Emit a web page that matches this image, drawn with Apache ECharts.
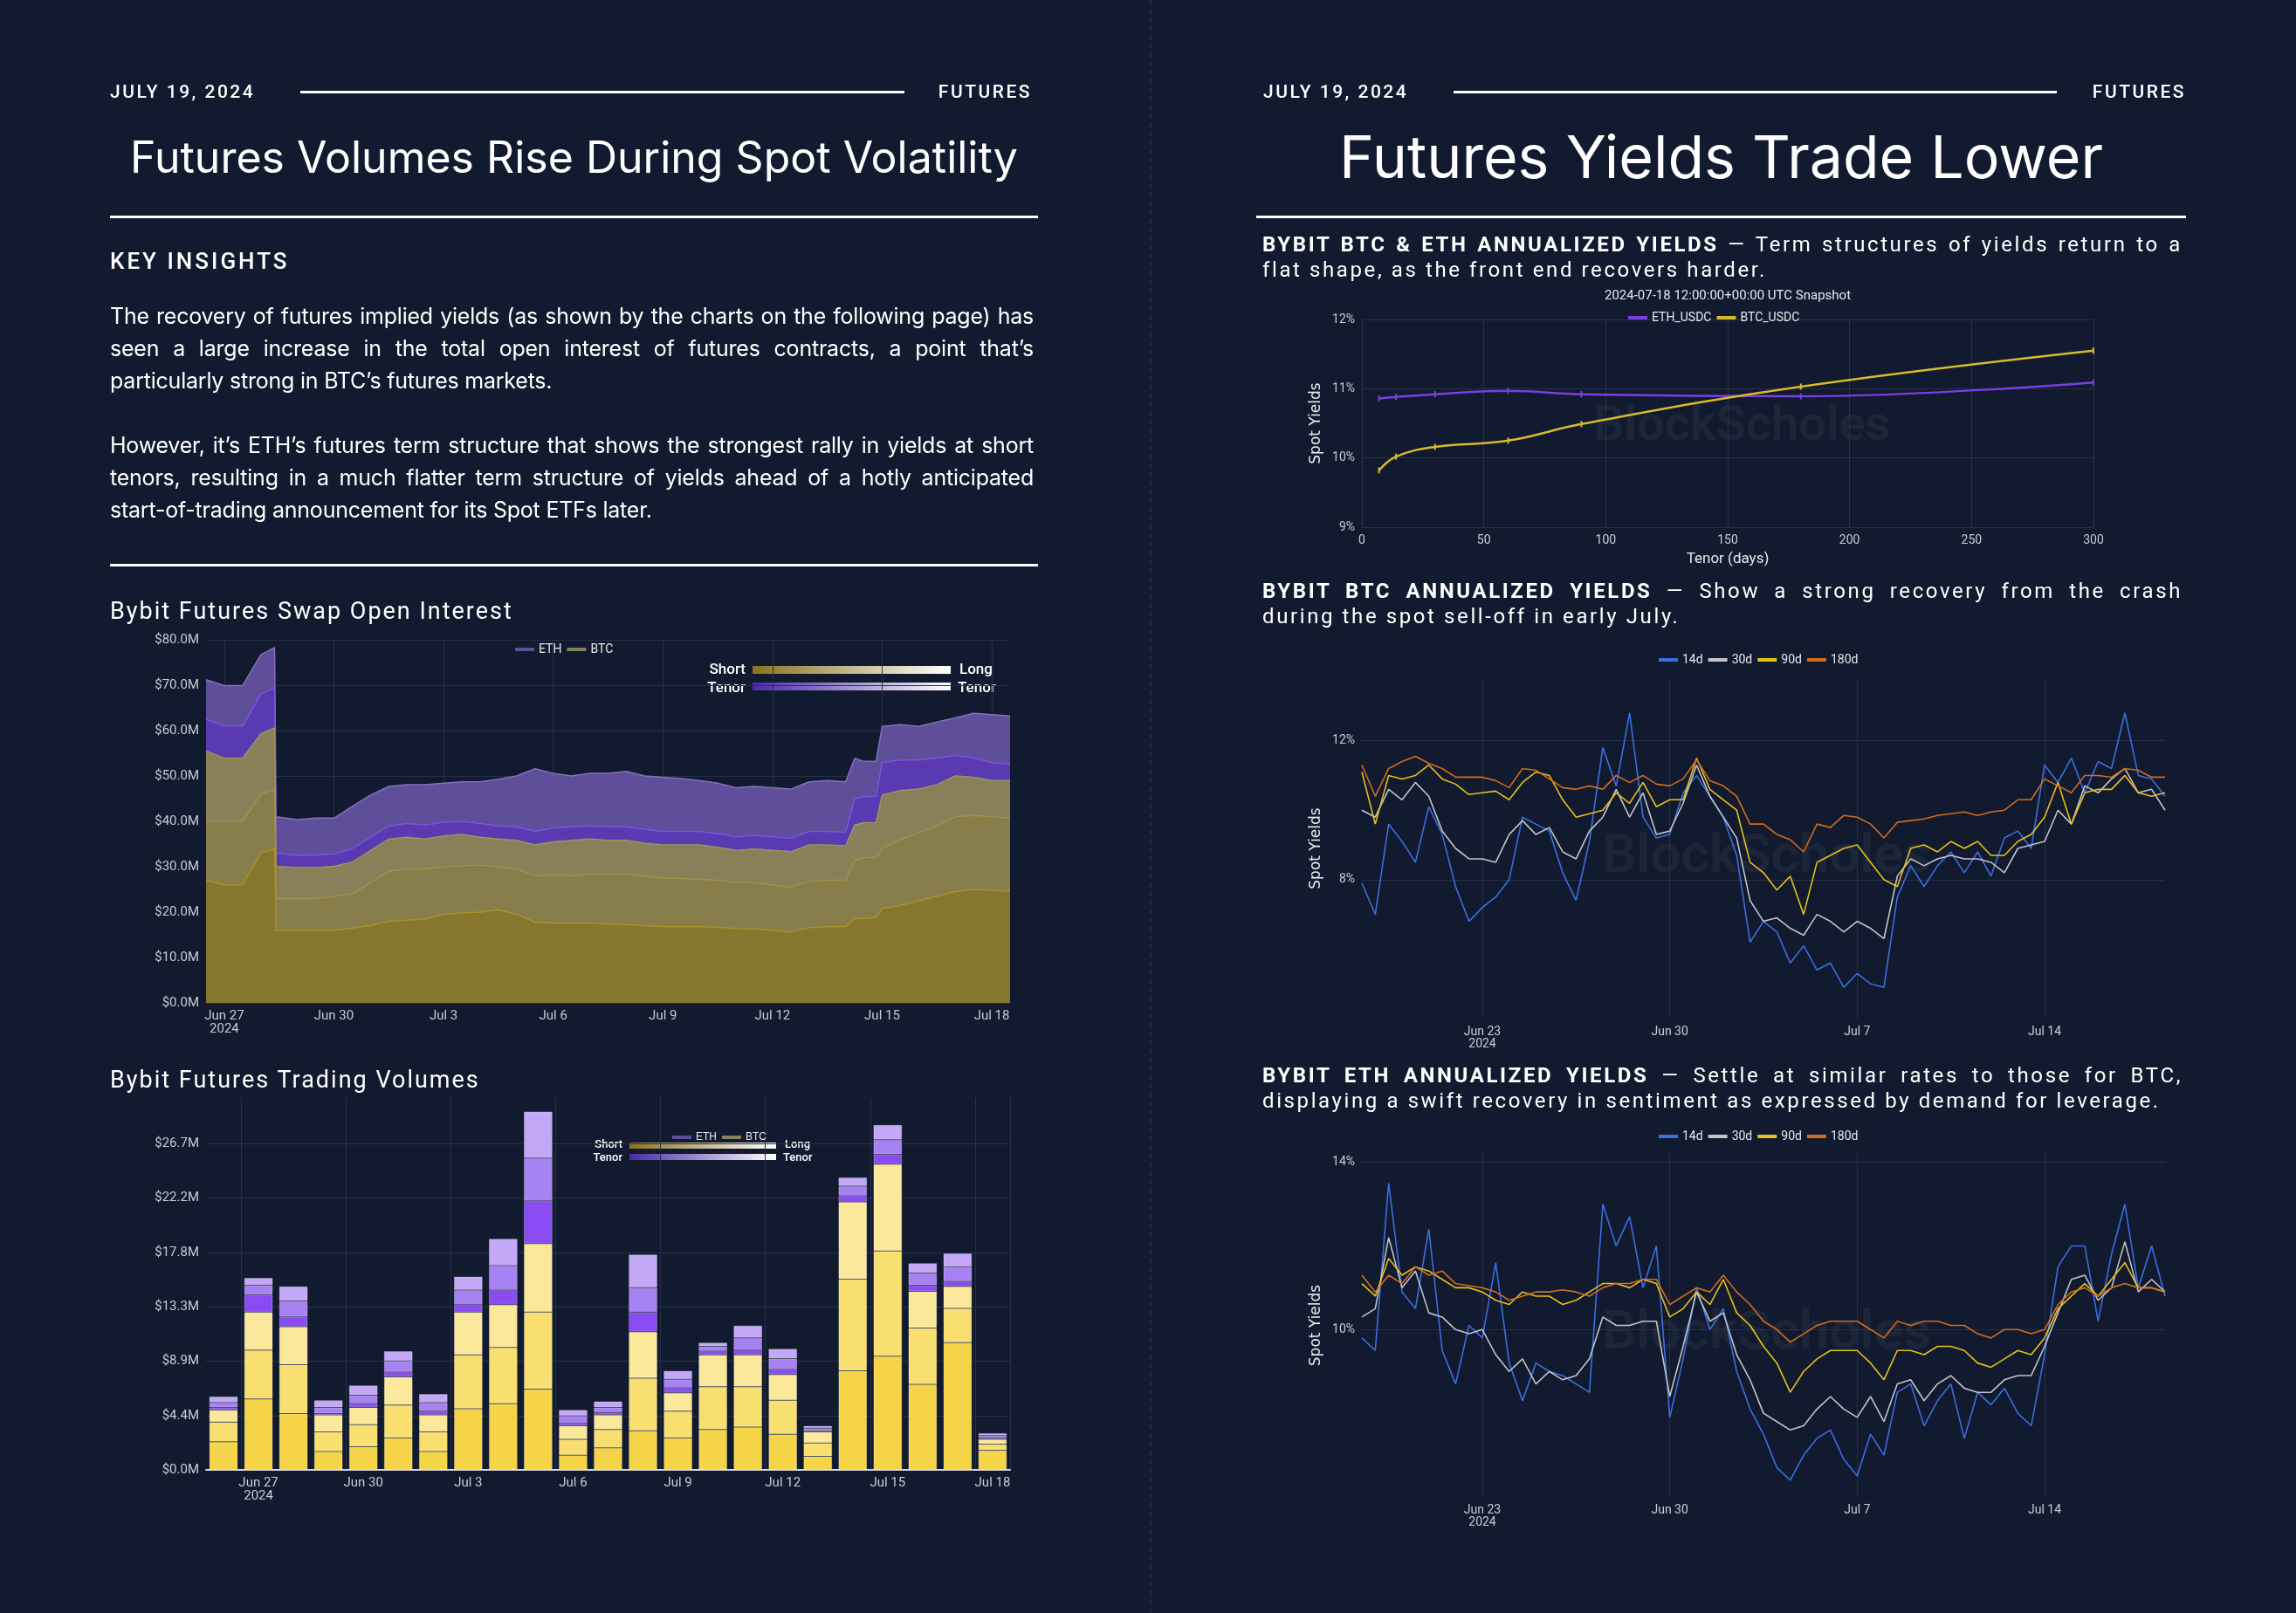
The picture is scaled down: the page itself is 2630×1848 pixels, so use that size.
<!DOCTYPE html>
<html><head><meta charset="utf-8">
<script src="https://cdn.jsdelivr.net/npm/echarts@6/dist/echarts.min.js"></script>
<style>
html,body{margin:0;padding:0;background:#111a2e;}
#page{position:relative;width:2630px;height:1848px;background:#111a2e;overflow:hidden;font-family:Inter,"Noto Sans",sans-serif;color:#fff;}
#chart{position:absolute;left:0;top:0;width:2630px;height:1848px;}
.t{position:absolute;white-space:nowrap;}
.hdr{font-family:Roboto,sans-serif;font-size:21px;letter-spacing:2.5px;font-weight:500;}
.rule{position:absolute;height:3px;background:#fff;}
.sub{font-family:Roboto,sans-serif;font-size:24px;letter-spacing:2.6px;line-height:29px;white-space:normal;text-align:justify;}
.para{position:absolute;left:126px;width:1058px;white-space:normal;text-align:justify;font-size:25px;letter-spacing:-0.22px;line-height:37px;}
.nw{white-space:nowrap;}
</style></head>
<body><div id="page">
<div id="chart"></div>
<div class="t hdr" style="left:126px;top:93px;">JULY 19, 2024</div>
<div class="rule" style="left:344px;top:104px;width:692px;"></div>
<div class="t hdr" style="left:1074px;top:93px;width:108px;text-align:right;">FUTURES</div>
<div class="t" style="left:126px;top:150px;width:1063px;text-align:center;font-size:50px;">Futures Volumes Rise During Spot Volatility</div>
<div class="rule" style="left:126px;top:247px;width:1063px;"></div>
<div class="t hdr" style="left:126px;top:284px;font-size:26px;letter-spacing:3px;">KEY INSIGHTS</div>
<div class="para" style="top:344px;">The recovery of futures implied yields (as shown by the charts on the following page) has seen a large increase in the total open interest of futures contracts, a point that’s particularly strong in BTC’s futures markets.</div>
<div class="para" style="top:492px;">However, it’s ETH’s futures term structure that shows the strongest rally in yields at short tenors, resulting in a much flatter term structure of yields ahead of a hotly anticipated <span class="nw">start-of-trading</span> announcement for its Spot ETFs later.</div>
<div class="rule" style="left:126px;top:646px;width:1063px;"></div>
<div class="t" style="left:126px;top:684px;font-family:Roboto,sans-serif;font-size:27px;letter-spacing:2px;">Bybit Futures Swap Open Interest</div>
<div class="t" style="left:126px;top:1221px;font-family:Roboto,sans-serif;font-size:27px;letter-spacing:2px;">Bybit Futures Trading Volumes</div>

<div style="position:absolute;left:1317px;top:0;height:1848px;border-left:2px dashed #1f2a44;"></div>

<div class="t hdr" style="left:1447px;top:93px;">JULY 19, 2024</div>
<div class="rule" style="left:1665px;top:104px;width:691px;"></div>
<div class="t hdr" style="left:2396px;top:93px;width:108px;text-align:right;">FUTURES</div>
<div class="t" style="left:1439px;top:138px;width:1065px;text-align:center;font-size:68px;">Futures Yields Trade Lower</div>
<div class="rule" style="left:1439px;top:247px;width:1065px;"></div>
<div class="t sub" style="left:1446px;top:266px;width:1054px;"><b>BYBIT BTC &amp; ETH ANNUALIZED YIELDS</b> — Term structures of yields return to a flat shape, as the front end recovers harder.</div>
<div class="t sub" style="left:1446px;top:663px;width:1054px;"><b>BYBIT BTC ANNUALIZED YIELDS</b> — Show a strong recovery from the crash during the spot sell-off in early July.</div>
<div class="t sub" style="left:1446px;top:1218px;width:1054px;"><b>BYBIT ETH ANNUALIZED YIELDS</b> — Settle at similar rates to those for BTC, displaying a swift recovery in sentiment as expressed by demand for leverage.</div>
</div>
<script>
// ---------- Open interest (USD millions), cumulative layer boundaries ----------
const oiTimes = ['2024-06-26 12:00','2024-06-27 00:00','2024-06-27 12:00','2024-06-28 00:00','2024-06-28 09:00','2024-06-28 10:00','2024-06-29 00:00','2024-06-29 12:00','2024-06-30 00:00','2024-06-30 12:00','2024-07-01 00:00','2024-07-01 12:00','2024-07-02 00:00','2024-07-02 12:00','2024-07-03 00:00','2024-07-03 12:00','2024-07-04 00:00','2024-07-04 12:00','2024-07-05 00:00','2024-07-05 12:00','2024-07-06 00:00','2024-07-06 12:00','2024-07-07 00:00','2024-07-07 12:00','2024-07-08 00:00','2024-07-08 12:00','2024-07-09 00:00','2024-07-09 12:00','2024-07-10 00:00','2024-07-10 12:00','2024-07-11 00:00','2024-07-11 12:00','2024-07-12 00:00','2024-07-12 12:00','2024-07-13 00:00','2024-07-13 12:00','2024-07-14 00:00','2024-07-14 06:00','2024-07-14 12:00','2024-07-14 20:00','2024-07-15 00:00','2024-07-15 12:00','2024-07-16 00:00','2024-07-16 12:00','2024-07-17 00:00','2024-07-17 12:00','2024-07-18 00:00','2024-07-18 12:00'];
const btcB1 = [27.0,26.0,26.0,33.0,34.0,16.0,16.0,16.0,16.0,16.5,17.0,18.0,18.2,18.5,19.5,19.8,20.0,20.5,19.5,17.8,17.6,17.6,17.6,17.4,17.2,17.0,16.8,16.8,16.8,16.7,16.4,16.3,16.0,15.6,16.6,16.8,16.8,18.5,18.6,18.8,20.8,21.5,22.5,23.5,24.5,25.0,24.8,24.6];
const btcB2 = [40.0,40.0,40.0,46.0,47.0,23.0,23.0,23.0,23.5,24.0,26.5,29.0,29.5,29.5,30.0,30.2,30.4,30.0,29.5,28.0,28.2,28.0,28.4,28.4,28.4,28.0,27.5,27.4,27.2,27.0,26.6,26.5,26.0,25.5,26.8,27.0,27.0,31.5,32.0,32.0,34.0,36.0,37.5,39.0,41.0,41.3,41.0,40.7];
const btcTop = [55.5,53.9,53.9,59.3,60.6,30.1,29.8,29.8,30.1,31.0,33.6,36.1,36.5,36.1,36.8,37.1,36.5,36.1,35.8,34.8,35.5,35.8,36.1,35.8,35.8,35.2,34.8,34.8,34.8,34.3,33.6,33.9,33.6,33.3,34.8,34.8,34.6,39.2,39.7,39.7,45.8,46.8,47.1,48.1,50.0,49.7,49.0,49.0];
const ethB1 = [62.5,61.0,61.0,68.0,69.5,33.0,32.5,32.6,32.8,34.0,36.5,39.0,39.5,39.2,39.8,40.0,39.5,39.0,38.8,37.8,38.5,38.8,39.0,38.8,38.8,38.2,37.8,37.8,37.8,37.3,36.6,36.9,36.6,36.3,37.8,37.8,37.6,45.0,45.5,45.5,53.0,53.5,53.5,54.0,54.5,54.0,53.0,52.5];
const oiTotal = [71.2,69.9,69.9,76.7,78.3,41.0,40.4,40.7,40.7,43.3,45.8,47.7,48.1,48.1,48.4,48.7,48.7,49.3,50.0,51.6,50.6,50.0,50.6,50.6,51.0,50.0,49.7,49.4,49.0,48.4,47.4,47.7,47.4,47.1,48.7,49.0,48.7,53.9,53.2,53.2,60.9,61.3,60.9,61.9,62.8,63.8,63.5,63.2];
const oiTickLabels = ['2024-06-27','2024-06-30','2024-07-03','2024-07-06','2024-07-09','2024-07-12','2024-07-15','2024-07-18'];

// ---------- Trading volumes (USD millions) ----------
const volDays = ['Jun 26','Jun 27','Jun 28','Jun 29','Jun 30','Jul 1','Jul 2','Jul 3','Jul 4','Jul 5','Jul 6','Jul 7','Jul 8','Jul 9','Jul 10','Jul 11','Jul 12','Jul 13','Jul 14','Jul 15','Jul 16','Jul 17','Jul 18'];
const volBtcShort = [2.3,5.8,4.6,1.5,1.9,2.6,1.5,5.0,5.4,6.6,1.2,1.8,3.2,2.6,3.3,3.5,2.9,1.1,8.1,9.3,7.0,10.4,1.6];
const volBtcMid   = [1.6,4.0,4.0,1.6,1.8,2.7,1.6,4.4,4.6,6.3,1.3,1.5,4.3,2.2,3.5,3.3,2.8,1.1,7.5,8.6,4.6,2.8,0.5];
const volBtcLong  = [1.0,3.1,3.1,1.4,1.4,2.3,1.4,3.5,3.5,5.6,1.1,1.2,3.8,1.5,2.6,2.6,2.1,0.9,6.3,7.1,3.0,1.8,0.4];
const volEthShort = [0.2,1.4,0.8,0.1,0.3,0.4,0.3,0.6,1.2,3.5,0.2,0.2,1.6,0.4,0.3,0.4,0.4,0.1,0.5,0.8,0.5,0.4,0.1];
const volEthMid   = [0.4,0.8,1.3,0.5,0.7,0.9,0.7,1.2,2.0,3.5,0.6,0.4,2.0,0.7,0.4,1.0,0.9,0.2,0.8,1.2,1.0,1.2,0.2];
const volEthLong  = [0.5,0.6,1.2,0.6,0.8,0.8,0.7,1.1,2.2,3.8,0.5,0.5,2.7,0.7,0.3,1.0,0.8,0.2,0.7,1.2,0.8,1.1,0.2];
const volTicks = [0,4.44,8.89,13.33,17.78,22.22,26.67];

// ---------- Term structure snapshot ----------
const tenors = [7,14,30,60,90,180,300];
const ethTerm = [10.86,10.88,10.92,10.97,10.92,10.89,11.09];
const btcTerm = [9.82,10.02,10.16,10.25,10.49,11.03,11.55];

// ---------- Yield histories (12h samples from 2024-06-18 12:00) ----------
const yieldStart = '2024-06-18 12:00';
const btc14 = [7.9,7.0,9.6,9.1,8.5,10.1,9.3,7.8,6.8,7.2,7.5,8.0,9.8,9.6,9.4,8.2,7.4,9.1,11.8,10.7,12.8,9.8,9.2,9.3,10.5,11.0,10.4,9.8,8.7,6.2,6.8,6.5,5.6,6.1,5.4,5.6,4.9,5.3,5.0,4.9,7.5,8.4,7.8,8.4,8.8,8.2,8.8,8.1,9.2,9.4,8.9,11.3,10.8,11.5,10.5,11.4,11.2,12.8,11.0,10.9,10.4];
const btc30 = [10.0,9.8,10.6,10.3,10.8,10.4,9.4,8.9,8.6,8.6,8.5,9.3,9.7,9.3,9.5,8.8,8.6,9.4,9.8,10.6,9.8,10.5,9.3,9.4,10.2,11.3,10.4,9.8,9.2,7.4,6.8,6.9,6.6,6.4,7.0,6.8,6.5,6.8,6.6,6.3,8.1,8.6,8.4,8.6,8.7,8.6,8.6,8.5,8.2,8.9,9.0,9.1,10.0,9.6,10.7,10.5,10.9,11.2,10.5,10.6,10.0];
const btc90 = [11.1,9.6,11.0,10.9,11.0,11.3,10.9,10.75,10.45,10.5,10.55,10.3,10.8,11.1,11.0,10.3,9.8,9.9,10.0,10.5,10.2,10.8,10.1,10.3,10.3,11.5,10.6,10.3,10.0,8.5,8.2,7.7,8.1,7.0,8.5,8.7,8.9,9.0,8.5,8.0,7.8,8.9,9.0,8.8,9.1,8.9,9.1,8.7,8.7,9.1,9.3,9.8,10.8,9.6,10.5,10.6,10.6,11.0,10.5,10.4,10.5];
const btc180 = [11.3,10.4,11.2,11.4,11.55,11.35,11.2,10.95,10.95,10.95,10.85,10.65,11.2,11.15,10.9,10.65,10.6,10.7,10.6,11.0,10.8,11.0,10.75,10.7,10.9,11.45,10.85,10.7,10.4,9.6,9.6,9.3,9.15,8.8,9.6,9.5,9.85,9.8,9.6,9.2,9.65,9.7,9.75,9.85,9.9,9.95,9.85,9.95,10.0,10.3,10.3,10.9,10.7,10.5,11.0,11.0,10.95,11.2,11.15,10.95,10.95];
const eth14 = [9.8,9.5,13.5,10.9,10.5,12.4,9.5,8.7,10.1,9.8,11.6,9.2,8.3,9.2,9.0,8.9,8.7,8.5,13.0,12.0,12.7,11.0,12.0,7.9,9.3,11.0,10.0,10.5,9.0,8.1,7.5,6.7,6.4,7.0,7.4,7.6,6.9,6.5,7.5,7.0,8.5,8.7,7.7,8.3,8.7,7.4,8.5,8.2,8.6,8.0,7.7,9.4,11.5,12.0,12.0,10.2,11.8,13.0,11.0,12.0,10.8];
const eth30 = [10.3,10.5,12.2,11.0,11.4,10.4,10.3,10.0,9.9,10.0,9.4,9.0,9.3,8.7,9.0,8.8,8.9,9.3,10.3,10.1,10.1,10.2,10.2,8.4,9.6,10.9,10.2,10.4,9.4,8.8,8.0,7.8,7.6,7.7,8.1,8.4,8.1,7.9,8.4,7.8,8.7,8.8,8.3,8.7,8.9,8.6,8.5,8.5,8.8,8.9,8.9,9.6,10.4,11.2,11.3,10.7,11.0,12.1,10.9,11.2,10.9];
const eth90 = [11.1,10.8,11.7,11.3,11.5,11.4,11.2,11.0,11.0,10.9,10.7,10.6,10.9,10.8,10.8,10.6,10.7,10.9,11.1,11.1,11.0,11.2,11.1,10.3,10.5,10.9,10.6,11.2,10.4,10.1,9.6,9.2,8.5,9.0,9.3,9.5,9.5,9.5,9.2,8.8,9.5,9.5,9.4,9.6,9.6,9.5,9.2,9.1,9.3,9.5,9.4,9.8,10.5,10.8,11.1,10.8,11.2,11.6,11.0,11.0,10.9];
const eth180 = [11.3,10.9,11.3,11.1,11.5,11.3,11.4,11.1,11.05,11.0,10.9,10.7,10.8,10.9,10.9,10.95,10.9,10.8,11.0,11.1,11.1,11.2,11.2,10.6,10.8,11.0,10.9,11.3,10.9,10.6,10.2,10.0,9.7,9.9,10.1,10.2,10.2,10.2,10.0,9.8,10.2,10.1,10.2,10.2,10.1,10.1,9.9,9.8,10.0,10.0,9.9,10.0,10.6,10.9,11.0,10.8,11.0,11.1,11.0,11.0,10.9];
const yieldTickLabels = ['2024-06-23','2024-06-30','2024-07-07','2024-07-14'];

// ---------- helpers ----------
const MON = ['Jan','Feb','Mar','Apr','May','Jun','Jul','Aug','Sep','Oct','Nov','Dec'];
function ts(s){const [d,t]=s.split(' ');const [y,m,dd]=d.split('-').map(Number);const [hh,mm]=(t||'00:00').split(':').map(Number);return Date.UTC(y,m-1,dd,hh,mm);}
function fmtDay(v,first){const d=new Date(v);const s=MON[d.getUTCMonth()]+' '+d.getUTCDate();return first?s+'\n2024':s;}
const oiT = oiTimes.map(ts);
const pairs=(arr)=>arr.map((v,i)=>[oiT[i],v]);
const y0 = ts(yieldStart);
const ypairs=(arr)=>arr.map((v,i)=>[y0+i*12*3600e3,v]);

const C = {txt:'#e8e8ee', grid:'#27304a', axis:'#c9ccd6'};
const lblFont = {color:C.axis,fontSize:15,fontFamily:'Roboto'};

const grids = [
 {left:236,top:733,width:921,height:416},
 {left:236,top:1258,width:921,height:426},
 {left:1560,top:366,width:838,height:238},
 {left:1560,top:777,width:920,height:390},
 {left:1560,top:1322,width:920,height:393}
];

const oiCustom = oiTickLabels.map(ts);
const yCustom = yieldTickLabels.map(ts);

function dateAxis(gi,min,max,custom,fs){
  return {gridIndex:gi,type:'value',min,max,
    axisLabel:Object.assign({},lblFont,{fontSize:fs,customValues:custom,formatter:v=>fmtDay(v,v===custom[0])}),
    axisTick:{show:false,customValues:custom},splitLine:{show:true,lineStyle:{color:C.grid}},axisLine:{show:false}};
}
const xAxes = [
 dateAxis(0,ts('2024-06-26 12:00'),ts('2024-07-18 12:00'),oiCustom,15),
 {gridIndex:1,type:'category',data:volDays,
  axisLabel:Object.assign({},lblFont,{interval:(i)=>(i-1)%3===0,formatter:(v,i)=>i===1?v+'\n2024':v}),
  axisTick:{show:false},splitLine:{show:true,interval:(i)=>(i-1)%3===0,lineStyle:{color:C.grid}},axisLine:{show:true,lineStyle:{color:'#d8d8e0',width:2}}},
 {gridIndex:2,type:'value',min:0,max:300,interval:50,name:'Tenor (days)',nameLocation:'middle',nameGap:28,nameTextStyle:{color:C.txt,fontSize:17,fontFamily:'Roboto'},
  axisLabel:Object.assign({},lblFont,{fontSize:14}),axisTick:{show:false},axisLine:{show:false},splitLine:{lineStyle:{color:C.grid}}},
 dateAxis(3,ts('2024-06-18 12:00'),ts('2024-07-18 12:00'),yCustom,14),
 dateAxis(4,ts('2024-06-18 12:00'),ts('2024-07-18 12:00'),yCustom,14)
];
const yAxes = [
 {gridIndex:0,type:'value',min:0,max:80,interval:10,axisLabel:Object.assign({},lblFont,{formatter:v=>'$'+v.toFixed(1)+'M'}),splitLine:{lineStyle:{color:C.grid}}},
 {gridIndex:1,type:'value',min:0,max:30.4,axisLabel:Object.assign({},lblFont,{customValues:volTicks,formatter:v=>'$'+v.toFixed(1)+'M'}),
  axisTick:{show:false,customValues:volTicks},splitLine:{show:true,lineStyle:{color:C.grid}}},
 {gridIndex:2,type:'value',min:9,max:12,interval:1,name:'Spot Yields',nameLocation:'middle',nameGap:44,nameTextStyle:{color:C.txt,fontSize:17,fontFamily:'DejaVu Sans'},
  axisLabel:Object.assign({},lblFont,{fontSize:14,formatter:v=>v+'%'}),splitLine:{lineStyle:{color:C.grid}}},
 {gridIndex:3,type:'value',min:4,max:13.8,name:'Spot Yields',nameLocation:'middle',nameGap:44,nameTextStyle:{color:C.txt,fontSize:17,fontFamily:'DejaVu Sans'},
  axisLabel:Object.assign({},lblFont,{fontSize:14,customValues:[8,12],formatter:v=>v+'%'}),axisTick:{show:false,customValues:[8,12]},splitLine:{lineStyle:{color:C.grid}}},
 {gridIndex:4,type:'value',min:6,max:14.2,name:'Spot Yields',nameLocation:'middle',nameGap:44,nameTextStyle:{color:C.txt,fontSize:17,fontFamily:'DejaVu Sans'},
  axisLabel:Object.assign({},lblFont,{fontSize:14,customValues:[10,14],formatter:v=>v+'%'}),axisTick:{show:false,customValues:[10,14]},splitLine:{lineStyle:{color:C.grid}}}
];
yAxes.forEach(a=>{a.axisLine={show:false};if(!a.axisTick)a.axisTick={show:false};});

function oiArea(name,data,fill,line,z){return {name,type:'line',xAxisIndex:0,yAxisIndex:0,data,symbol:'none',z,
  lineStyle:{color:line,width:1.5},itemStyle:{color:fill},areaStyle:{color:fill,opacity:1}};}
function volBar(name,data,col){return {name,type:'bar',xAxisIndex:1,yAxisIndex:1,stack:'vol',data,barCategoryGap:'18%',
  itemStyle:{color:col,borderColor:'rgba(255,255,255,0.25)',borderWidth:1}};}
function yLine(name,xi,data,col){return {name,type:'line',xAxisIndex:xi,yAxisIndex:xi,data,symbol:'none',lineStyle:{color:col,width:1.6},itemStyle:{color:col}};}

const series = [
 oiArea('ETH',pairs(oiTotal),'#5f4e9a','#8470c0',2),
 oiArea('ETH',pairs(ethB1),'#5a3ab0','#7a55e0',3),
 oiArea('BTC',pairs(btcTop),'#888058','#9d9360',4),
 oiArea('BTC',pairs(btcB2),'#877e4c','#a0924a',5),
 oiArea('BTC',pairs(btcB1),'#86762e','#a8922c',6),
 volBar('BTC',volBtcShort,'#f5d448'),
 volBar('BTC',volBtcMid,'#f8df70'),
 volBar('BTC',volBtcLong,'#fbe89a'),
 volBar('ETH',volEthShort,'#8a4cf2'),
 volBar('ETH',volEthMid,'#a682f2'),
 volBar('ETH',volEthLong,'#c3a8f7'),
 {name:'ETH_USDC',type:'line',xAxisIndex:2,yAxisIndex:2,smooth:0.4,data:tenors.map((t,i)=>[t,ethTerm[i]]),symbol:'rect',symbolSize:[2,7],lineStyle:{color:'#7b3fe4',width:2.5},itemStyle:{color:'#7b3fe4'}},
 {name:'BTC_USDC',type:'line',xAxisIndex:2,yAxisIndex:2,smooth:0.4,data:tenors.map((t,i)=>[t,btcTerm[i]]),symbol:'rect',symbolSize:[2,7],lineStyle:{color:'#d9bb2a',width:2.5},itemStyle:{color:'#d9bb2a'}},
 yLine('14d',3,ypairs(btc14),'#3a6fe2'), yLine('30d',3,ypairs(btc30),'#c4c4c8'), yLine('90d',3,ypairs(btc90),'#e6c01e'), yLine('180d',3,ypairs(btc180),'#d36c1c'),
 yLine('14d',4,ypairs(eth14),'#3a6fe2'), yLine('30d',4,ypairs(eth30),'#c4c4c8'), yLine('90d',4,ypairs(eth90),'#e6c01e'), yLine('180d',4,ypairs(eth180),'#d36c1c')
];

const legBase = {itemWidth:22,itemHeight:4,icon:'rect',itemGap:6,textStyle:{color:C.txt,fontSize:14,fontFamily:'Roboto'}};
const legend = [
 Object.assign({},legBase,{data:['ETH','BTC'],left:585,top:732}),
 Object.assign({},legBase,{data:['ETH','BTC'],left:765,top:1292,textStyle:{color:C.txt,fontSize:12}}),
 Object.assign({},legBase,{data:['ETH_USDC','BTC_USDC'],left:1860,top:352}),
 Object.assign({},legBase,{data:['14d','30d','90d','180d'],left:1895,top:744}),
 Object.assign({},legBase,{data:['14d','30d','90d','180d'],left:1895,top:1290})
];

function gradLegend(x,y,w,h,fs,gap){
  const tx={fill:'#fff',font:'500 '+fs+'px Roboto'};
  return [
   {type:'rect',shape:{x:x,y:y,width:w,height:h},style:{fill:new echarts.graphic.LinearGradient(0,0,1,0,[{offset:0,color:'#8a7420'},{offset:1,color:'#ffffff'}])}},
   {type:'rect',shape:{x:x,y:y+gap,width:w,height:h},style:{fill:new echarts.graphic.LinearGradient(0,0,1,0,[{offset:0,color:'#4a2aa8'},{offset:1,color:'#ffffff'}])}},
   {type:'text',x:x-8,y:y-4,style:Object.assign({text:'Short',align:'right'},tx)},
   {type:'text',x:x-8,y:y+gap-2,style:Object.assign({text:'Tenor',align:'right'},tx)},
   {type:'text',x:x+w+10,y:y-4,style:Object.assign({text:'Long',align:'left'},tx)},
   {type:'text',x:x+w+8,y:y+gap-2,style:Object.assign({text:'Tenor',align:'left'},tx)}
  ];
}
const wm=(x,y,fs)=>({type:'text',x,y,z:0,style:{text:'BlockScholes',fill:'rgba(255,255,255,0.05)',font:'600 '+fs+'px "Liberation Sans Narrow", Roboto'}});

const graphic = [].concat(
  gradLegend(862,763,227,9,17,19),
  gradLegend(721,1309,168,7,13,13),
  [
   {type:'text',x:1979,y:332,style:{text:'2024-07-18 12:00:00+00:00 UTC Snapshot',fill:C.txt,font:'15px Roboto',align:'center'}},
   wm(1825,462,56), wm(1835,952,62), wm(1835,1498,62)
  ]
);

const chart = echarts.init(document.getElementById('chart'),null,{renderer:'canvas'});
chart.setOption({backgroundColor:'transparent',animation:false,grid:grids,xAxis:xAxes,yAxis:yAxes,series,legend,graphic});
</script>
</body></html>
